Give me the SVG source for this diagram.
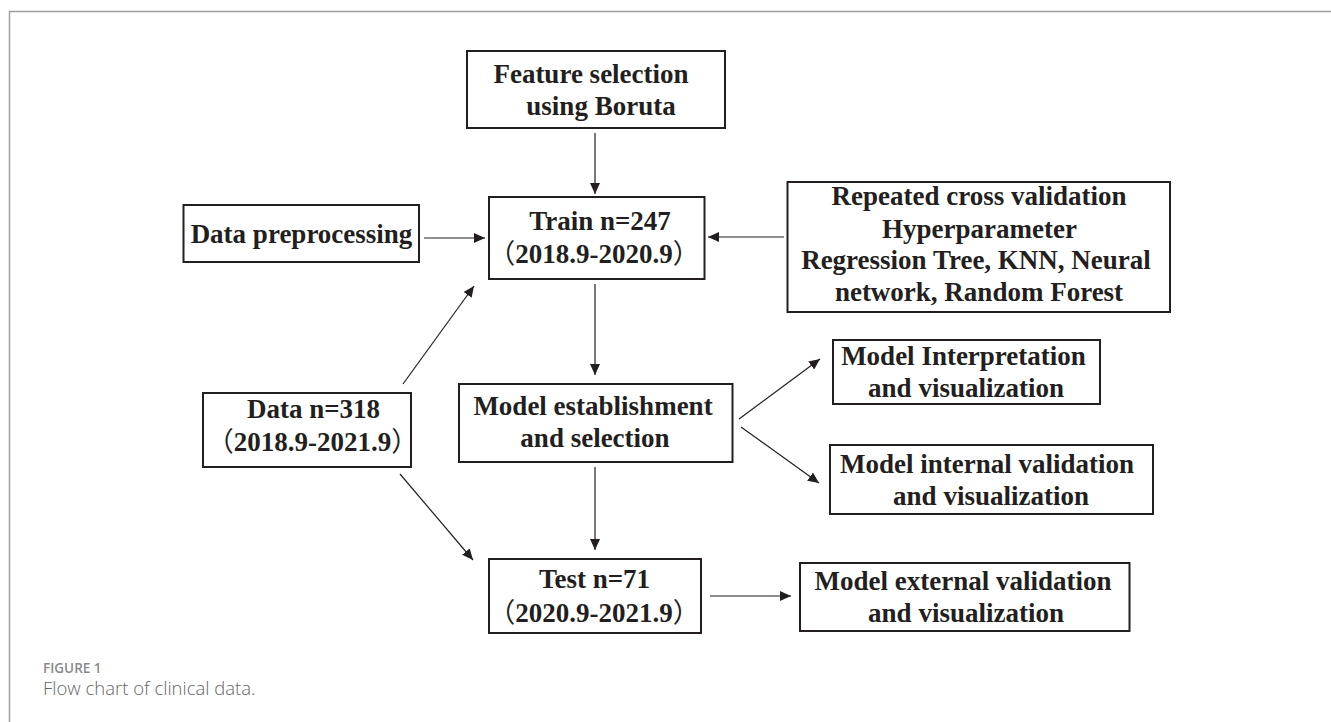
<svg xmlns="http://www.w3.org/2000/svg" width="1331" height="722" viewBox="0 0 1331 722">
<style>
.box{fill:#fff;stroke:#231f20;stroke-width:2}
.t{font-family:"Liberation Serif","Noto Sans CJK SC",serif;font-weight:bold;font-size:27px;fill:#231f20;text-anchor:middle}
.p{font-family:"Noto Sans CJK SC",sans-serif;font-weight:normal}
.c{stroke:#231f20;stroke-width:1.2;fill:none;marker-end:url(#ah)}
</style>
<defs>
<marker id="ah" markerUnits="userSpaceOnUse" markerWidth="12" markerHeight="10" refX="11" refY="5" orient="auto">
<path d="M0,0 L11,5 L0,10 z" fill="#231f20"/>
</marker>
</defs>
<rect width="1331" height="722" fill="#fff"/>
<path d="M9.5,722 V11.5 H1331" fill="none" stroke="#a0a0a0" stroke-width="1.5"/>

<g id="connectors">
<line class="c" x1="595" y1="133" x2="595" y2="194"/>
<line class="c" x1="424" y1="238" x2="485" y2="238"/>
<line class="c" x1="784" y1="237" x2="708" y2="237"/>
<line class="c" x1="403" y1="384" x2="474" y2="286"/>
<line class="c" x1="595" y1="284" x2="595" y2="375"/>
<line class="c" x1="400" y1="474" x2="473" y2="560"/>
<line class="c" x1="595" y1="467" x2="595" y2="550"/>
<line class="c" x1="739" y1="419" x2="820" y2="359"/>
<line class="c" x1="741" y1="427" x2="819" y2="483"/>
<line class="c" x1="710" y1="596" x2="791" y2="596"/>
</g>

<g id="feature">
<rect class="box" x="467" y="51" width="258" height="77"/>
<text class="t" x="591" y="83">Feature selection</text>
<text class="t" x="601" y="115">using Boruta</text>
</g>
<g id="train">
<rect class="box" x="489" y="197" width="215.5" height="82"/>
<text class="t" x="600" y="230">Train n=247</text>
<text class="t" x="594" y="263"><tspan class="p">（</tspan>2018.9-2020.9<tspan class="p">）</tspan></text>
</g>
<g id="preprocessing">
<rect class="box" x="183.5" y="205" width="235.5" height="57"/>
<text class="t" x="301.5" y="243">Data preprocessing</text>
</g>
<g id="hyper">
<rect class="box" x="787.5" y="182" width="382.5" height="130"/>
<text class="t" x="979" y="205">Repeated cross validation</text>
<text class="t" x="979.5" y="237.5">Hyperparameter</text>
<text class="t" x="976" y="269">Regression Tree, KNN, Neural</text>
<text class="t" x="979" y="300.5">network, Random Forest</text>
</g>
<g id="data">
<rect class="box" x="203" y="393" width="208" height="74"/>
<text class="t" x="313.5" y="418">Data n=318</text>
<text class="t" x="312.5" y="451"><tspan class="p">（</tspan>2018.9-2021.9<tspan class="p">）</tspan></text>
</g>
<g id="model">
<rect class="box" x="459" y="384" width="273.5" height="78"/>
<text class="t" x="593" y="415">Model establishment</text>
<text class="t" x="595" y="447">and selection</text>
</g>
<g id="test">
<rect class="box" x="489" y="559" width="212" height="74"/>
<text class="t" x="594.5" y="588">Test n=71</text>
<text class="t" x="594" y="622"><tspan class="p">（</tspan>2020.9-2021.9<tspan class="p">）</tspan></text>
</g>
<g id="interpretation">
<rect class="box" x="833" y="340" width="267" height="64"/>
<text class="t" x="963.5" y="365">Model Interpretation</text>
<text class="t" x="966" y="397">and visualization</text>
</g>
<g id="internal">
<rect class="box" x="830" y="445" width="323" height="69"/>
<text class="t" x="987" y="473">Model internal validation</text>
<text class="t" x="991" y="505">and visualization</text>
</g>
<g id="external">
<rect class="box" x="800" y="563" width="329.5" height="68"/>
<text class="t" x="963" y="590">Model external validation</text>
<text class="t" x="966" y="622">and visualization</text>
</g>

<g id="caption">
<text x="43" y="672.5" font-family="Open Sans, sans-serif" font-size="13.5" font-weight="600" fill="#8a8a8a">FIGURE 1</text>
<text x="43" y="695" font-family="Open Sans, sans-serif" font-size="18.5" font-weight="300" fill="#666">Flow chart of clinical data.</text>
</g>
</svg>
